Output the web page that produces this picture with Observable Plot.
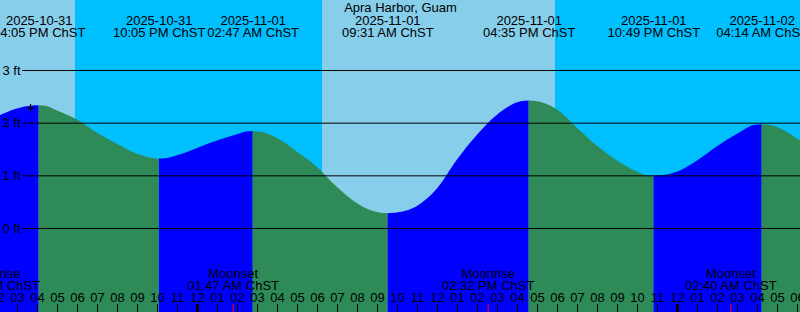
<!DOCTYPE html>
<html><head><meta charset="utf-8">
<script src="https://cdn.jsdelivr.net/npm/d3@7"></script>
<script src="https://cdn.jsdelivr.net/npm/@observablehq/plot@0.6"></script>
<style>
html,body{margin:0;padding:0;background:#fff;}
#chart svg{display:block;}
</style></head><body><div id="chart"></div>
<script>
// ---- data ----
const title = "Apra Harbor, Guam";
const tzName = "ChST";
const viewStart = "2025-10-31T14:09";
const viewEnd = "2025-11-02T06:09";

const dayStarts = ["2025-10-31T14:09", "2025-11-01T06:15"];
const dayEnds = ["2025-10-31T17:54", "2025-11-01T17:54"];
const nightStarts = ["2025-10-31T17:54", "2025-11-01T17:54"];
const nightEnds = ["2025-11-01T06:15", "2025-11-02T06:09"];

const extremeTimes = ["2025-10-31T16:05", "2025-10-31T22:05", "2025-11-01T02:47", "2025-11-01T09:31",
  "2025-11-01T16:35", "2025-11-01T22:49", "2025-11-02T04:14"];

const tideTimes = [
  "2025-10-31T14:00", "2025-10-31T15:00", "2025-10-31T15:45", "2025-10-31T16:05", "2025-10-31T16:25",
  "2025-10-31T17:00", "2025-10-31T18:00", "2025-10-31T19:00", "2025-10-31T20:00", "2025-10-31T21:00",
  "2025-10-31T21:45", "2025-10-31T22:05", "2025-10-31T22:25", "2025-10-31T23:00",
  "2025-11-01T00:00", "2025-11-01T01:00", "2025-11-01T02:00", "2025-11-01T02:27", "2025-11-01T02:47",
  "2025-11-01T03:07", "2025-11-01T04:00", "2025-11-01T05:00", "2025-11-01T06:00", "2025-11-01T07:00",
  "2025-11-01T08:00", "2025-11-01T09:11", "2025-11-01T09:31", "2025-11-01T09:51", "2025-11-01T11:00",
  "2025-11-01T12:00", "2025-11-01T13:00", "2025-11-01T14:00", "2025-11-01T15:00", "2025-11-01T16:15",
  "2025-11-01T16:35", "2025-11-01T16:55", "2025-11-01T18:00", "2025-11-01T19:00", "2025-11-01T20:00",
  "2025-11-01T21:00", "2025-11-01T22:00", "2025-11-01T22:29", "2025-11-01T22:49", "2025-11-01T23:09",
  "2025-11-02T00:00", "2025-11-02T01:00", "2025-11-02T02:00", "2025-11-02T03:00", "2025-11-02T03:54",
  "2025-11-02T04:14", "2025-11-02T04:34", "2025-11-02T05:00", "2025-11-02T06:00", "2025-11-02T07:00"];
const tideHeights = [
  2.12, 2.27, 2.325, 2.33, 2.32,
  2.23, 2.06, 1.81, 1.60, 1.41,
  1.33, 1.32, 1.325, 1.38,
  1.52, 1.66, 1.78, 1.83, 1.84,
  1.83, 1.71, 1.45, 1.16, 0.78,
  0.47, 0.29, 0.28, 0.29, 0.42,
  0.75, 1.30, 1.77, 2.15, 2.41,
  2.42, 2.41, 2.25, 1.90, 1.56,
  1.28, 1.07, 1.00, 0.99, 1.00,
  1.07, 1.28, 1.55, 1.79, 1.96,
  1.97, 1.96, 1.92, 1.70, 1.45];

const moonTimes = ["2025-10-31T13:49", "2025-11-01T01:47", "2025-11-01T14:32", "2025-11-02T02:40"];
const moonEvents = ["Moonrise", "Moonset", "Moonrise", "Moonset"];

const gridValues = [0, 1, 2, 3];
const gridUnit = "ft";

const nowTime = "2025-10-31T15:39";
const nowHeight = 2.29;

const yLow = -1.595, yHigh = 4.329;

// ---- build ----
const parse = s => new Date(s + ":00Z");
const x0 = parse(viewStart), x1 = parse(viewEnd);

const bands = [
  ...dayStarts.map((s, i) => ({start: parse(s), end: parse(dayEnds[i]), day: true})),
  ...nightStarts.map((s, i) => ({start: parse(s), end: parse(nightEnds[i]), day: false}))
];

const rows = [];
let seg = 0;
tideTimes.forEach((t, i) => {
  const d = parse(t), h = tideHeights[i];
  rows.push({t: d, h, seg});
  if (extremeTimes.includes(t)) { seg++; rows.push({t: d, h, seg}); }
});
const segDir = d3.rollup(rows, v => v[v.length - 1].h > v[0].h ? "rise" : "fall", r => r.seg);
rows.forEach(r => r.dir = segDir.get(r.seg));

const extremes = extremeTimes.map(t => ({t: parse(t)}));
const moons = moonTimes.map((t, i) => ({t: parse(t), ev: moonEvents[i]}));
const hours = d3.utcHour.range(new Date(+x0 - 3600e3), new Date(+x1 + 3600e3));

const fmtDate = d3.utcFormat("%Y-%m-%d");
const fmtTime = d => d3.utcFormat("%I:%M %p")(d) + " " + tzName;
const fmtHour = d3.utcFormat("%I");

const txt = {fill: "black", lineAnchor: "middle"};

const chart = Plot.plot({
  width: 800, height: 312,
  marginTop: 0, marginBottom: 0, marginLeft: 0, marginRight: 0,
  x: {type: "utc", domain: [x0, x1], axis: null},
  y: {domain: [yLow, yHigh], axis: null},
  style: {fontFamily: "'Liberation Sans', Arial, sans-serif", fontSize: "13px", background: "white", color: "black"},
  marks: [
    Plot.rect(bands.filter(b => b.day), {x1: "start", x2: "end", fill: "#87CEEB"}),
    Plot.rect(bands.filter(b => !b.day), {x1: "start", x2: "end", fill: "#00BFFF"}),
    Plot.areaY(rows.filter(r => r.dir === "rise"), {x: "t", y1: yLow, y2: "h", z: "seg", fill: "#0000FF", curve: "monotone-x"}),
    Plot.areaY(rows.filter(r => r.dir === "fall"), {x: "t", y1: yLow, y2: "h", z: "seg", fill: "#2E8B57", curve: "monotone-x"}),
    Plot.ruleY(gridValues, {y: d => d, stroke: "black", strokeWidth: 1, insetLeft: 22}),
    Plot.text(gridValues, {y: d => d, text: d => `${d} ${gridUnit}`, frameAnchor: "left", dx: 2, textAnchor: "start", ...txt}),
    Plot.dot([{t: parse(nowTime), h: nowHeight}], {x: "t", y: "h", symbol: "plus", r: 2.7, stroke: "black", strokeWidth: 1.2}),
    Plot.text([title], {text: d => d, frameAnchor: "top", dy: 7.5, ...txt}),
    Plot.text(extremes, {x: "t", text: d => fmtDate(d.t), frameAnchor: "top", dy: 20, ...txt}),
    Plot.text(extremes, {x: "t", text: d => fmtTime(d.t), frameAnchor: "top", dy: 32, ...txt}),
    Plot.text(moons, {x: "t", text: "ev", frameAnchor: "bottom", dy: -38.5, ...txt}),
    Plot.text(moons, {x: "t", text: d => fmtTime(d.t), frameAnchor: "bottom", dy: -26.5, ...txt}),
    Plot.text(hours, {x: d => d, text: d => fmtHour(d), frameAnchor: "bottom", dy: -14.5, ...txt}),
    Plot.ruleX(hours, {x: d => d, insetTop: 304, stroke: "black", strokeWidth: d => d.getUTCHours() === 0 ? 3 : 1}),
    Plot.ruleX(moons, {x: "t", insetTop: 304, stroke: "red", strokeWidth: 1})
  ]
});
document.getElementById("chart").appendChild(chart);
</script>
</body></html>
